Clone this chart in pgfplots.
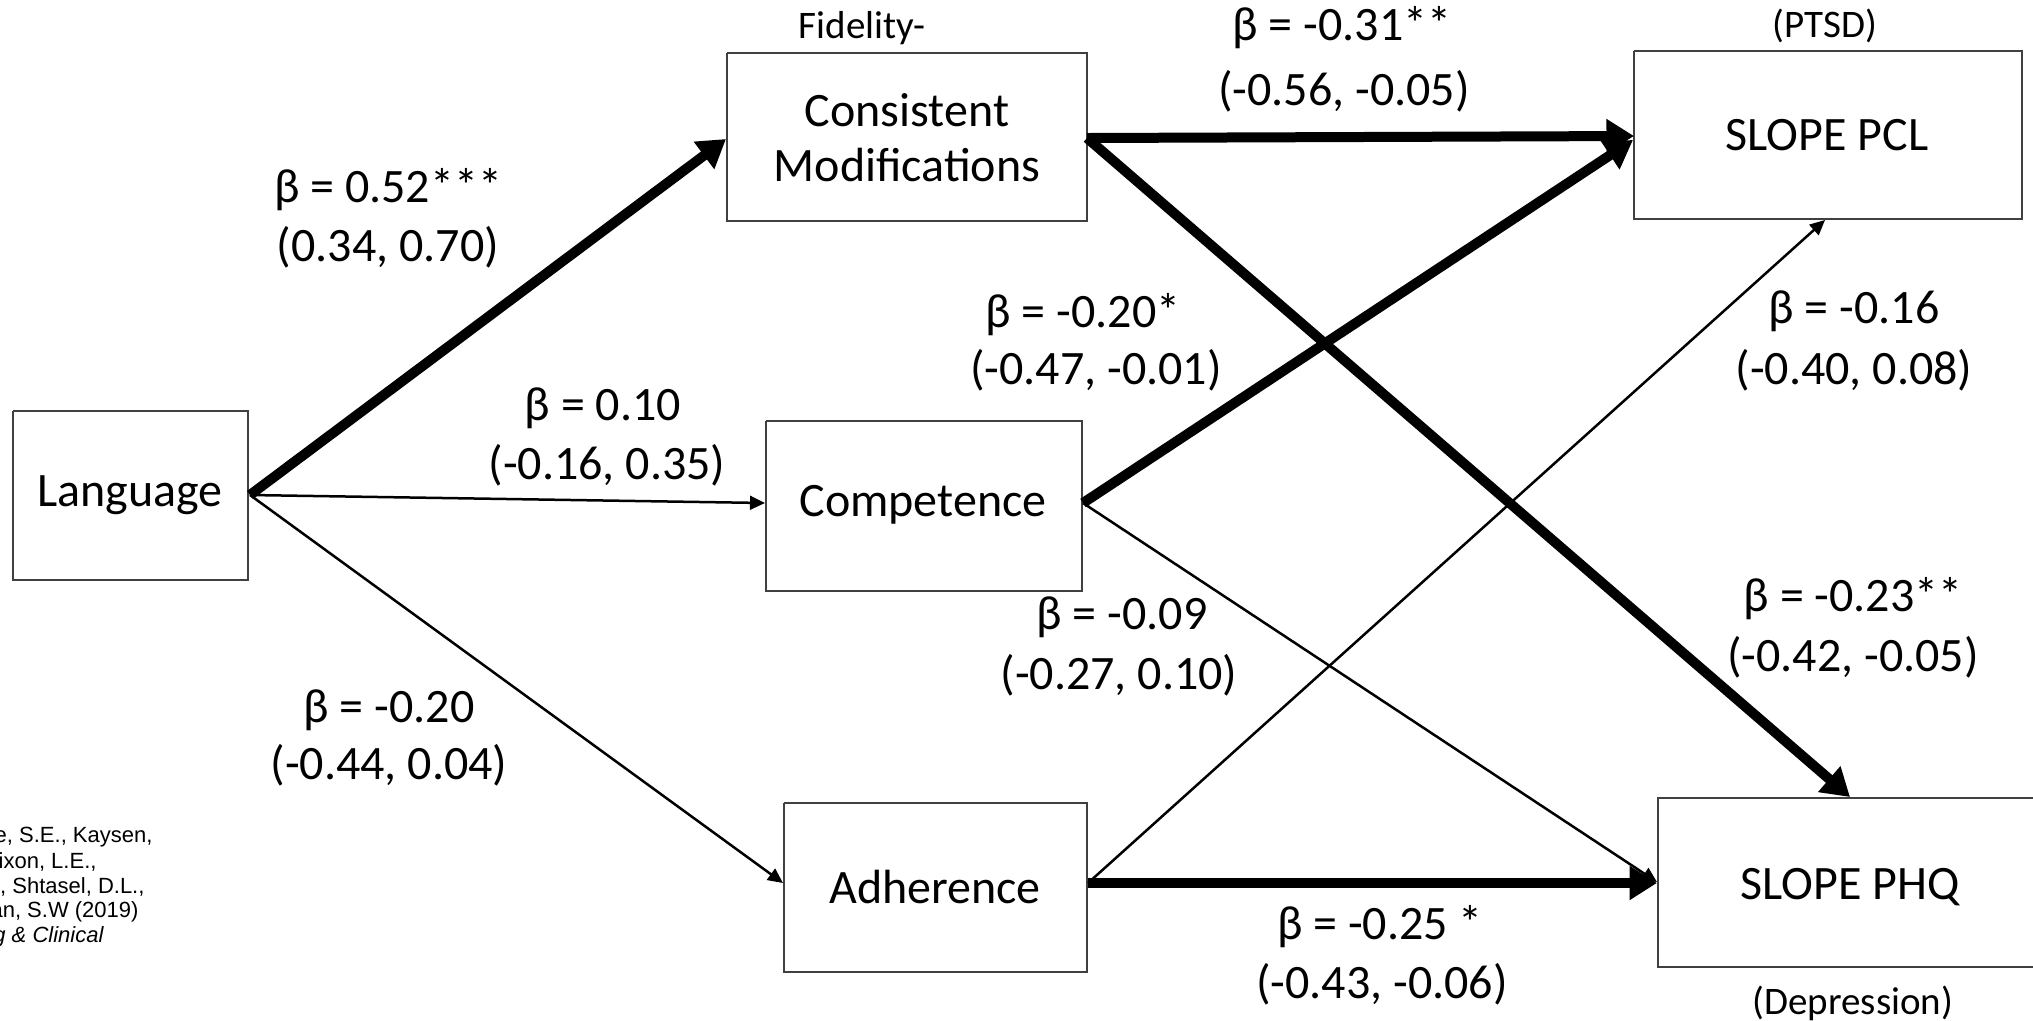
\documentclass[border=0pt]{standalone}
\usepackage{pgfplots}
\pgfplotsset{compat=1.18}
\usetikzlibrary{arrows.meta}
\usepackage{fontspec}
\setmainfont{Carlito}
\newfontfamily\arialf{Liberation Sans}
\pgfplotsset{
  boxst/.style={draw=black!75, line width=0.8pt, mark=none, line join=miter},
  thickarr/.style={mark=none, black, line width=4pt, -{Triangle[length=11pt,width=13pt]}},
  thinarr/.style={mark=none, black, line width=1pt, -{Triangle[length=6pt,width=5.5pt]}},
}
\newcommand{\bigf}{\fontsize{19.2}{22}\selectfont}
\newcommand{\smlf}{\fontsize{15.6}{18}\selectfont}
\newcommand{\citf}{\arialf\fontsize{8.8}{10}\selectfont}
\begin{document}
\begin{tikzpicture}
\begin{axis}[width=813.2pt,height=408pt,scale only axis,hide axis,
  xmin=0,xmax=2033,ymin=0,ymax=1020,y dir=reverse,clip=false]
% boxes
\addplot[boxst] coordinates {(13,411) (248,411) (248,580) (13,580) (13,411)};
\addplot[boxst] coordinates {(727,53) (1087,53) (1087,221) (727,221) (727,53)};
\addplot[boxst] coordinates {(766,421) (1082,421) (1082,591) (766,591) (766,421)};
\addplot[boxst] coordinates {(784,803) (1087,803) (1087,972) (784,972) (784,803)};
\addplot[boxst] coordinates {(1634,51) (2022,51) (2022,219) (1634,219) (1634,51)};
\addplot[boxst] coordinates {(2060,798) (1658,798) (1658,967) (2060,967)};
% arrows
\addplot[thickarr] coordinates {(250,495) (726,139)};
\addplot[thinarr] coordinates {(250,495) (765,503)};
\addplot[thinarr] coordinates {(250,495) (783,883)};
\addplot[thickarr] coordinates {(1087,138) (1634,136)};
\addplot[thickarr] coordinates {(1087,138) (1850,797)};
\addplot[thickarr] coordinates {(1083,503) (1633,140)};
\addplot[thinarr] coordinates {(1083,503) (1657,882)};
\addplot[thinarr] coordinates {(1088,883) (1825,220)};
\addplot[thickarr] coordinates {(1088,883) (1657,883)};
% box texts
\node[font=\bigf] at (axis cs:130,495) {Language};
\node[font=\bigf,align=center] at (axis cs:907,138) {Consistent\\Modifications};
\node[font=\bigf] at (axis cs:923,505) {Competence};
\node[font=\bigf] at (axis cs:935,887) {Adherence};
\node[font=\bigf] at (axis cs:1827,135) {SLOPE PCL};
\node[font=\bigf] at (axis cs:1850,887) {SLOPE PHQ};
\node[font=\smlf] at (axis cs:862,28) {Fidelity-};
\node[font=\smlf] at (axis cs:1825,26) {(PTSD)};
\node[font=\smlf] at (axis cs:1853,1003) {(Depression)};
% path labels
\node[font=\bigf] at (axis cs:388,190) {β = 0.52***};
\node[font=\bigf] at (axis cs:388,247) {(0.34, 0.70)};
\node[font=\bigf] at (axis cs:1342,28) {β = -0.31**};
\node[font=\bigf] at (axis cs:1344,91) {(-0.56, -0.05)};
\node[font=\bigf] at (axis cs:1083,315) {β = -0.20*};
\node[font=\bigf] at (axis cs:1096,370) {(-0.47, -0.01)};
\node[font=\bigf] at (axis cs:1854,311) {β = -0.16};
\node[font=\bigf] at (axis cs:1854,370) {(-0.40, 0.08)};
\node[font=\bigf] at (axis cs:603,408) {β = 0.10};
\node[font=\bigf] at (axis cs:607,465) {(-0.16, 0.35)};
\node[font=\bigf] at (axis cs:1122,617) {β = -0.09};
\node[font=\bigf] at (axis cs:1119,675) {(-0.27, 0.10)};
\node[font=\bigf] at (axis cs:1853,599) {β = -0.23**};
\node[font=\bigf] at (axis cs:1853,657) {(-0.42, -0.05)};
\node[font=\bigf] at (axis cs:389,710) {β = -0.20};
\node[font=\bigf] at (axis cs:389,765) {(-0.44, 0.04)};
\node[font=\bigf] at (axis cs:1380,927) {β = -0.25 *};
\node[font=\bigf] at (axis cs:1382,984) {(-0.43, -0.06)};
% citation (cut at the left edge, as in the reference)
\node[font=\citf,anchor=east,inner sep=0pt] at (axis cs:153,837) {Marques, L., Valentine, S.E., Kaysen,};
\node[font=\citf,anchor=east,inner sep=0pt] at (axis cs:97,862) {D., Mackintosh, M.A., Dixon, L.E.,};
\node[font=\citf,anchor=east,inner sep=0pt] at (axis cs:145,887) {Simon, N.M, Shtasel, D.L.,};
\node[font=\citf,anchor=east,inner sep=0pt] at (axis cs:139,912) {Wiltsey-Stirman, S.W (2019)};
\node[font=\citf\itshape,anchor=east,inner sep=0pt] at (axis cs:104,937) {Journal of Consulting \& Clinical};
\end{axis}
\pgfresetboundingbox
\path[use as bounding box] (0,0) rectangle (813.2pt,408pt);
\end{tikzpicture}
\end{document}
